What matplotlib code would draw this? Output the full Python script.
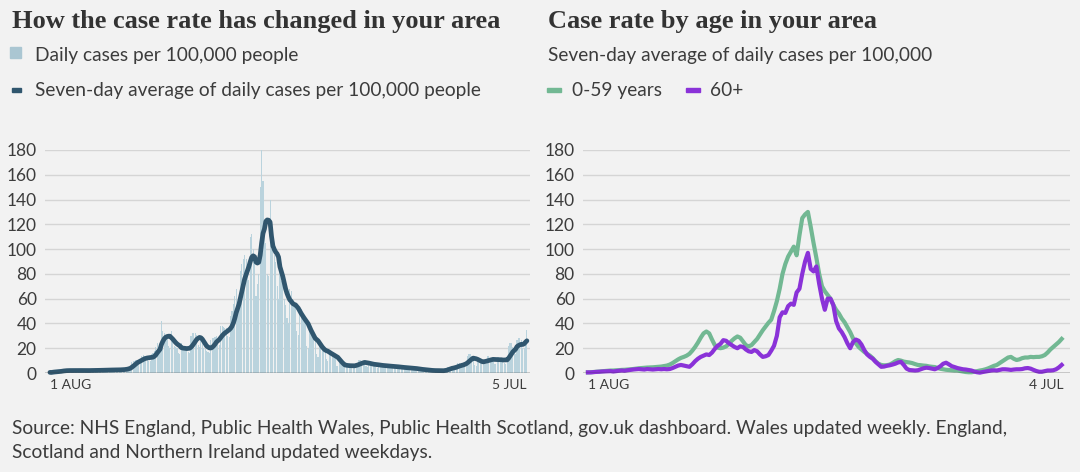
import numpy as np
import pandas as pd
import matplotlib
matplotlib.use('Agg')
import matplotlib.pyplot as plt
from matplotlib.patches import Rectangle

# daily cases per 100,000 (one row per week, weeks start on Saturday 1 Aug 2020)
daily_cases = [
    0.5, 0.4, 1.0, 1.2, 1.3, 1.4, 1.4,
    1.6, 1.4, 2.4, 2.3, 2.2, 2.0, 1.9,
    1.6, 1.5, 2.5, 2.4, 2.2, 2.1, 1.9,
    1.5, 1.4, 2.4, 2.3, 2.2, 2.0, 1.9,
    1.7, 1.5, 2.6, 2.5, 2.4, 2.2, 2.0,
    1.8, 1.7, 2.9, 2.8, 2.6, 2.5, 2.3,
    2.0, 1.8, 3.0, 2.9, 2.8, 2.6, 2.5,
    2.2, 2.0, 3.4, 3.3, 3.4, 3.6, 3.8,
    4.5, 4.5, 9.0, 9.5, 10.0, 10.5, 10.5,
    9.0, 8.5, 14.0, 14.5, 13.5, 13.0, 12.5,
    10.0, 9.5, 15.0, 16.0, 18.0, 21.0, 24.0,
    20, 20, 42, 34, 32, 30, 28,
    22, 20, 34, 26, 22, 21, 20,
    16, 15, 24, 23, 21, 20, 19,
    17, 16, 30, 32, 32, 32, 31,
    23, 21, 28, 24, 20, 19, 18,
    17, 16, 27, 28, 28, 29, 30,
    24, 23, 38, 38, 37, 36, 36,
    30, 29, 46, 50, 56, 62, 68,
    55, 52, 82, 88, 92, 95, 92,
    78, 75, 110, 112, 100, 90, 62,
    72, 80, 150, 180, 155, 115, 105,
    80, 78, 140, 100, 100, 95, 90,
    70, 60, 85, 74, 72, 60, 55,
    44, 40, 68, 66, 60, 55, 52,
    34, 31, 53, 52, 47, 43, 41,
    22, 20, 35, 34, 31, 28, 26,
    15, 13, 23, 22, 20, 19, 18,
    11, 10, 17.5, 17, 15.5, 14, 13,
    6, 5.5, 8, 7.5, 6.5, 6, 6,
    4.5, 4, 7.2, 7, 6.5, 6, 5.5,
    6.8, 6, 10.6, 10.4, 9.4, 8.8, 8,
    5.6, 5, 8.8, 8.4, 7.7, 7, 6.5,
    4.8, 4.2, 7.5, 7.2, 6.6, 6, 5.7,
    4.2, 3.7, 6.6, 6.4, 5.8, 5.3, 5.1,
    3.6, 3.2, 5.6, 5.4, 5.0, 4.5, 4.2,
    3.0, 2.7, 4.8, 4.6, 4.2, 3.8, 3.5,
    2.2, 2.0, 3.5, 3.4, 3.1, 2.8, 2.6,
    1.6, 1.4, 2.5, 2.4, 2.2, 2.0, 1.9,
    1.4, 1.2, 2.2, 2.2, 2.1, 2.0, 1.9,
    2.6, 2.4, 4.8, 5.0, 5.0, 4.8, 3.4,
    4.8, 4.5, 8.0, 8.0, 7.6, 7.2, 5.4,
    8, 8, 14, 15, 15, 13.5, 10.5,
    6.5, 6, 11, 11, 10.5, 10, 8,
    8, 7.5, 13.5, 13.5, 12.5, 12, 10,
    7.5, 7, 13, 13, 12.5, 12, 8.5,
    7.8, 7.4, 13, 22, 24, 24, 21,
    16, 15, 27, 28, 28, 27, 20,
    20, 24, 35,
]

# seven-day averages by age, every second day from 1 Aug 2020
age_0_59 = [
    0.5, 0.6, 0.8, 1.0, 1.2, 1.4, 1.6, 1.8, 2.0, 2.0,
    2.2, 2.3, 2.5, 2.6, 2.8, 3.0, 3.2, 3.5, 3.8, 4.0,
    4.2, 4.4, 4.5, 4.6, 4.8, 5.0, 5.2, 5.6, 6.0, 6.8,
    8.0, 9.5, 11.0, 12.2, 13.0, 14.0, 15.5, 18.0, 21.0, 24.5,
    28.5, 32.0, 33.5, 32.0, 27.0, 22.5, 20.5, 20.0, 20.5, 21.5,
    23.5, 26.0, 28.0, 29.5, 28.5, 25.5, 22.5, 21.5, 22.5, 25.0,
    27.5, 31.0, 34.5, 37.5, 40.5, 43.0, 50.0, 58.0, 68.0, 80.0,
    88.0, 94.0, 98.0, 102.0, 95.0, 111.0, 125.0, 128.0, 130.0, 118.0,
    105.0, 93.0, 80.0, 70.0, 66.0, 63.0, 60.0, 55.0, 51.0, 48.0,
    44.0, 41.0, 37.0, 33.0, 28.0, 24.0, 21.0, 19.0, 17.0, 15.5,
    14.0, 12.0, 9.5, 7.5, 6.5, 6.2, 6.3, 6.8, 8.0, 9.5,
    10.5, 10.0, 9.2, 8.8, 8.5, 8.0, 7.2, 6.5, 6.3, 6.0,
    5.8, 5.3, 5.0, 4.8, 4.0, 3.4, 3.0, 2.6, 2.4, 2.2,
    2.0, 2.0, 1.6, 1.2, 0.8, 0.6, 0.6, 1.0, 1.5, 2.0,
    2.4, 3.0, 3.8, 4.8, 5.8, 6.5, 8.0, 9.5, 11.0, 12.5,
    13.0, 11.5, 10.5, 11.0, 12.0, 12.5, 12.5, 13.0, 12.8, 13.0,
    13.0, 13.5, 14.5, 16.5, 19.0, 21.0, 23.0, 25.0, 27.5,
]
age_60_plus = [
    0.5, 0.5, 0.7, 0.9, 1.0, 1.2, 1.3, 1.4, 1.5, 1.2,
    1.5, 1.8, 2.0, 1.8, 2.2, 2.5, 2.8, 3.0, 3.2, 3.0,
    2.8, 3.2, 3.0, 2.8, 3.0, 3.2, 3.0, 3.2, 3.0, 3.2,
    4.0, 5.0, 6.0, 6.5, 6.0, 5.5, 5.0, 7.0, 9.5, 11.5,
    13.0, 14.0, 15.0, 14.5, 16.5, 19.5, 22.0, 23.5, 26.5, 26.0,
    24.0, 22.5, 21.0, 20.0, 21.5, 21.0, 19.0, 17.5, 17.0, 18.5,
    17.5, 15.0, 13.0, 13.5, 14.5, 18.0, 22.0, 30.0, 45.0, 49.0,
    48.5, 54.0, 56.0, 55.0, 65.0, 68.0, 80.0, 90.0, 97.0, 84.0,
    82.0, 86.0, 72.0, 60.0, 51.0, 60.0, 60.0, 55.0, 42.0, 36.0,
    33.0, 29.0, 24.0, 20.0, 25.0, 27.0, 26.0, 23.0, 18.5, 15.0,
    13.0, 11.5, 9.0, 7.0, 5.0, 5.2, 5.8, 6.2, 6.8, 7.5,
    8.5, 9.0, 6.5, 3.5, 2.4, 2.2, 2.0, 2.2, 3.0, 3.8,
    4.3, 4.0, 3.5, 3.0, 4.0, 5.5, 7.5, 8.3, 7.0, 5.5,
    4.8, 4.0, 3.5, 3.0, 2.8, 2.4, 2.0, 1.2, 0.6, 0.3,
    0.8, 1.2, 1.6, 2.0, 2.2, 2.0, 2.5, 3.0, 3.0, 2.8,
    2.5, 2.8, 3.0, 3.0, 3.2, 3.8, 4.0, 3.5, 2.5, 1.6,
    1.0, 1.0, 1.5, 2.0, 2.0, 2.2, 3.0, 4.5, 6.5,
]

y_ticks = [0, 20, 40, 60, 80, 100, 120, 140, 160, 180]

start = pd.Timestamp('2020-08-01')
dates = pd.date_range(start, periods=len(daily_cases), freq='D')
avg7 = pd.Series(daily_cases).rolling(7, min_periods=1).mean()
age_dates = pd.date_range(start, periods=len(age_0_59), freq='2D')

BG = '#f2f2f2'
TXT = '#3c3c3c'
SANS = ['Lato', 'DejaVu Sans']
SERIF = ['Liberation Serif', 'DejaVu Serif']
FS = 13.8

W, H = 1080, 472
fig = plt.figure(figsize=(W / 100, H / 100), dpi=100, facecolor=BG)


def px(x, y):
    return x / W, 1 - y / H


def style_axis(ax, left, right, end_label, end_date):
    ax.set_facecolor(BG)
    ax.set_ylim(0, 180)
    ax.set_xlim(start + pd.Timedelta(days=left), start + pd.Timedelta(days=right))
    ax.set_yticks(y_ticks)
    ax.grid(axis='y', color='#d5d5d5', lw=1)
    ax.set_axisbelow(True)
    for s in ax.spines.values():
        s.set_visible(False)
    ax.axhline(0, color='#333333', lw=1, zorder=4)
    ax.tick_params(axis='y', length=0, pad=6, labelsize=12.5, labelcolor=TXT)
    ax.set_xticks([start, end_date])
    ax.set_xticklabels(['1 AUG', end_label])
    ax.tick_params(axis='x', length=0, pad=4, labelsize=10, labelcolor=TXT)
    labs = ax.get_xticklabels()
    labs[0].set_ha('left')
    labs[1].set_ha('right')
    for t in ax.get_xticklabels() + ax.get_yticklabels():
        t.set_family(SANS)


# left panel
ax1 = fig.add_axes([45 / W, 99 / H, 485 / W, 223 / H])
ax1.bar(dates, daily_cases, width=0.8, color='#bad3dd', zorder=2)
ax1.plot(dates, avg7, color='#30566e', lw=3.4, solid_capstyle='round',
         zorder=3, clip_on=False)
style_axis(ax1, -3.5, 340.2, '5 JUL', dates[-1])

# right panel
ax2 = fig.add_axes([583 / W, 99 / H, 487 / W, 223 / H])
ax2.plot(age_dates, age_0_59, color='#72b893', lw=3, zorder=3, clip_on=False)
ax2.plot(age_dates, age_60_plus, color='#8a32d8', lw=3, zorder=3, clip_on=False)
style_axis(ax2, -3.5, 341.9, '4 JUL', pd.Timestamp('2021-07-04'))

# headers
fig.text(*px(12, 28), 'How the case rate has changed in your area', family=SERIF,
         weight='bold', fontsize=19, color='#333333', va='baseline')
fig.text(*px(548, 28), 'Case rate by age in your area', family=SERIF,
         weight='bold', fontsize=19, color='#333333', va='baseline')

fig.add_artist(Rectangle(px(10, 58), 11 / W, 11 / H, transform=fig.transFigure,
                         color='#aac6d2'))
fig.text(*px(35, 61), 'Daily cases per 100,000 people', family=SANS,
         fontsize=FS, color=TXT, va='baseline')
fig.add_artist(Rectangle(px(12, 92), 9 / W, 4 / H, transform=fig.transFigure,
                         color='#30566e'))
fig.text(*px(35, 96), 'Seven-day average of daily cases per 100,000 people',
         family=SANS, fontsize=FS, color=TXT, va='baseline')

fig.text(*px(548, 61), 'Seven-day average of daily cases per 100,000',
         family=SANS, fontsize=FS, color=TXT, va='baseline')
fig.add_artist(Rectangle(px(547, 92), 14 / W, 4 / H, transform=fig.transFigure,
                         color='#72b893'))
fig.text(*px(572, 96), '0-59 years', family=SANS, fontsize=FS, color=TXT,
         va='baseline')
fig.add_artist(Rectangle(px(686, 92), 14 / W, 4 / H, transform=fig.transFigure,
                         color='#8a32d8'))
fig.text(*px(710, 96), '60+', family=SANS, fontsize=FS, color=TXT, va='baseline')

# source
fig.text(*px(12, 434), 'Source: NHS England, Public Health Wales, Public Health '
         'Scotland, gov.uk dashboard. Wales updated weekly. England,',
         family=SANS, fontsize=FS, color=TXT, va='baseline')
fig.text(*px(12, 458), 'Scotland and Northern Ireland updated weekdays.',
         family=SANS, fontsize=FS, color=TXT, va='baseline')

fig.savefig('out.png', dpi=100, facecolor=BG)
